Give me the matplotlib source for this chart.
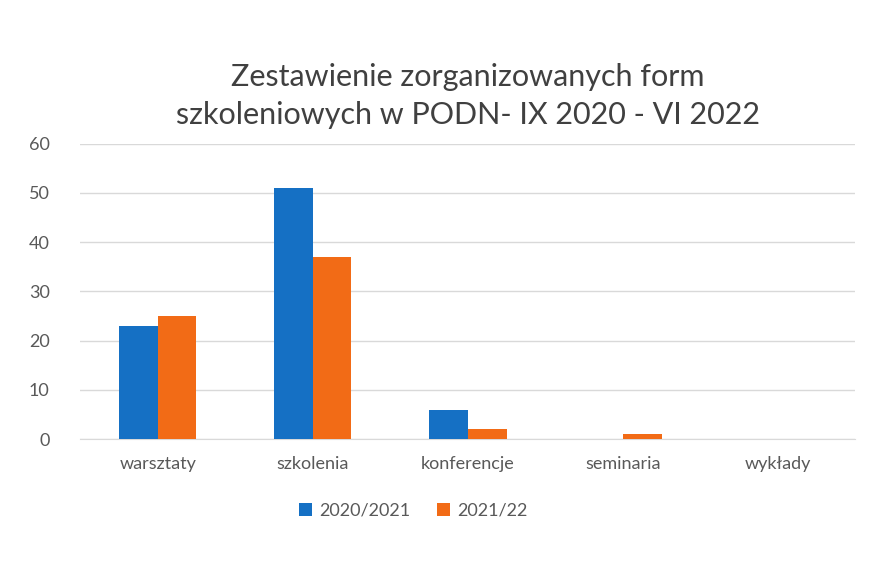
import matplotlib.pyplot as plt
import numpy as np

categories = ["warsztaty", "szkolenia", "konferencje", "seminaria", "wykłady"]
series_names = ["2020/2021", "2021/22"]
values_2020 = [23, 51, 6, 0, 0]
values_2021 = [25, 37, 2, 1, 0]
y_ticks = [0, 10, 20, 30, 40, 50, 60]

title = "Zestawienie zorganizowanych form\nszkoleniowych w PODN- IX 2020 - VI 2022"

plt.rcParams["font.family"] = ["Lato", "DejaVu Sans"]

blue = "#1570c4"
orange = "#f26b16"
gray = "#595959"

fig = plt.figure(figsize=(8.91, 5.63), dpi=100)
ax = fig.add_axes([0.09, 0.22, 0.87, 0.525])

x = np.arange(len(categories))
w = 0.25
ax.bar(x - w / 2, values_2020, w, color=blue, label=series_names[0], zorder=3)
ax.bar(x + w / 2, values_2021, w, color=orange, label=series_names[1], zorder=3)

ax.set_xlim(-0.5, len(categories) - 0.5)
ax.set_ylim(0, 60)
ax.set_yticks(y_ticks)
ax.set_yticklabels([str(t) for t in y_ticks], color=gray, fontsize=13)
ax.set_xticks(x)
ax.set_xticklabels(categories, color=gray, fontsize=13)
ax.tick_params(axis="y", length=0, pad=22)
ax.tick_params(axis="x", length=0, pad=12)
ax.grid(axis="y", color="#d9d9d9", linewidth=1, zorder=0)
ax.spines[["top", "right", "left"]].set_visible(False)
ax.spines["bottom"].set_color("#d9d9d9")

fig.text(0.525, 0.83, title, ha="center", va="center", fontsize=22,
         color="#404040", linespacing=1.45)

ax.legend(loc="upper center", bbox_to_anchor=(0.43, -0.16), ncol=2,
          frameon=False, fontsize=13, handlelength=0.7, handleheight=0.7,
          columnspacing=1.5, handletextpad=0.4, labelcolor=gray)

fig.savefig("out.png", dpi=100, facecolor="white")
